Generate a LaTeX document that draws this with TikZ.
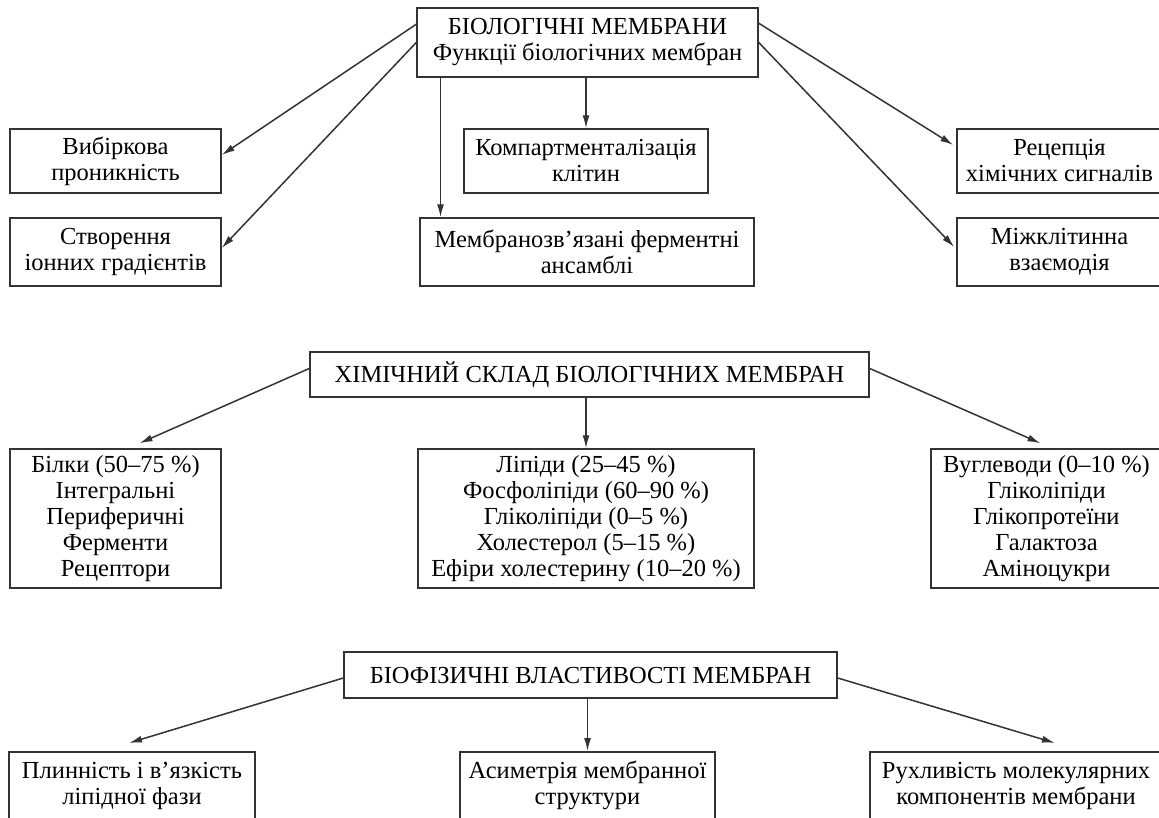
\documentclass[tikz,border=0pt]{standalone}
\usepackage{fontspec}
\setmainfont{Liberation Serif}
\usetikzlibrary{arrows.meta,positioning}

\begin{document}
\begin{tikzpicture}[x=1pt, y=-1pt,
    box/.style={draw=black!80, line width=1.5pt, align=center, inner sep=0pt, font=\fontsize{24.5}{26}\selectfont},
    lowbox/.style={box, anchor=north, inner ysep=10pt, text height=43pt, text depth=40pt},
    arr/.style={-{Latex[length=13pt,width=7pt]}, line width=1.5pt, draw=black!80}
]
\useasboundingbox (0,0) rectangle (1159,817);
% functions
\node[box, minimum width=341pt, minimum height=69pt] (bm) at (587.5,42.5) {БІОЛОГІЧНІ МЕМБРАНИ\\Функції біологічних мембран};
\node[box, minimum width=211pt, minimum height=64pt] (vyb) at (115.5,161) {Вибіркова\\проникність};
\node[box, minimum width=211pt, minimum height=68pt] (ion) at (115.5,252) {Створення\\іонних градієнтів};
\node[box, minimum width=244pt, minimum height=64pt] (komp) at (586,161) {Компартменталізація\\клітин};
\node[box, minimum width=334pt, minimum height=68pt] (ferm) at (587,252) {Мембранозв’язані ферментні\\ансамблі};
\node[box, minimum width=205pt, minimum height=64pt] (rec) at (1059.5,161) {Рецепція\\хімічних сигналів};
\node[box, minimum width=205pt, minimum height=68pt] (mizh) at (1059.5,252) {Міжклітинна\\взаємодія};
\draw[arr] ([yshift=-17pt]bm.north west) -- ([yshift=6pt]vyb.east);
\draw[arr] (bm.west) -- ([yshift=4pt]ion.east);
\draw[arr] ([xshift=-147pt]bm.south) -- ([xshift=-147pt]bm.south |- ferm.north);
\draw[arr] (komp.north |- bm.south) -- (komp.north);
\draw[arr] ([yshift=-16pt]bm.north east) -- ([xshift=-3pt,yshift=16pt]rec.west);
\draw[arr] (bm.east) -- ([xshift=-2pt,yshift=5pt]mizh.west);
% chemical composition
\node[box, minimum width=559pt, minimum height=45pt] (chem) at (589.5,374.5) {ХІМІЧНИЙ СКЛАД БІОЛОГІЧНИХ МЕМБРАН};
\node[box, minimum width=211pt, minimum height=139pt] (bilk) at (115.5,518.5) {Білки (50–75 \%)\\Інтегральні\\Периферичні\\Ферменти\\Рецептори};
\node[box, minimum width=336pt, minimum height=139pt] (lip) at (586,518.5) {Ліпіди (25–45 \%)\\Фосфоліпіди (60–90 \%)\\Гліколіпіди (0–5 \%)\\Холестерол (5–15 \%)\\Ефіри холестерину (10–20 \%)};
\node[box, minimum width=231pt, minimum height=139pt] (vugl) at (1046.5,518.5) {Вуглеводи (0–10 \%)\\Гліколіпіди\\Глікопротеїни\\Галактоза\\Аміноцукри};
\draw[arr] ([yshift=6pt]chem.west) -- ([xshift=24pt,yshift=5pt]bilk.north);
\draw[arr] (lip.north |- chem.south) -- (lip.north);
\draw[arr] ([yshift=6pt]chem.east) -- ([xshift=-6pt,yshift=5pt]vugl.north);
% biophysical properties
\node[box, minimum width=493pt, minimum height=46pt] (phys) at (590.5,675) {БІОФІЗИЧНІ ВЛАСТИВОСТІ МЕМБРАН};
\node[lowbox, minimum width=246pt] (plyn) at (132,751) {Плинність і в’язкість\\ліпідної фази};
\node[lowbox, minimum width=255pt] (asym) at (587.5,751) {Асиметрія мембранної\\структури};
\node[lowbox, minimum width=292pt] (ruch) at (1016,751) {Рухливість молекулярних\\компонентів мембрани};
\draw[arr] ([yshift=-3pt]phys.west) -- ([xshift=-3pt,yshift=8pt]plyn.north);
\draw[arr] (asym.north |- phys.south) -- (asym.north);
\draw[arr] ([yshift=-3pt]phys.east) -- ([xshift=39pt,yshift=8pt]ruch.north);
\end{tikzpicture}
\end{document}
